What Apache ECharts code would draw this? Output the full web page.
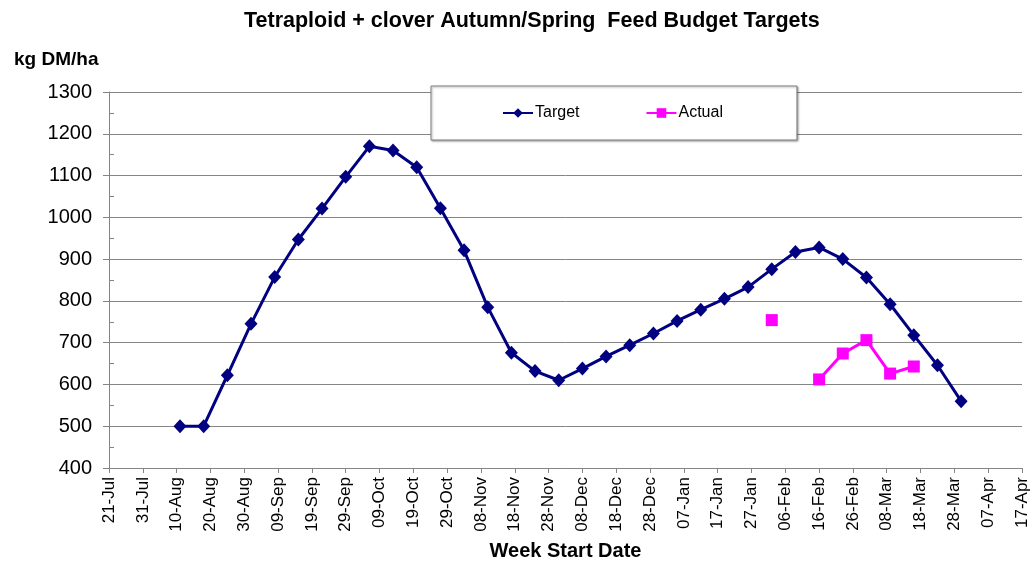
<!DOCTYPE html>
<html>
<head>
<meta charset="utf-8">
<script src="https://cdn.jsdelivr.net/npm/echarts@6/dist/echarts.min.js"></script>
<style>
  html, body { margin: 0; padding: 0; background: #fff; }
  #chart { width: 1034px; height: 568px; }
</style>
</head>
<body>
<div id="chart"></div>
<script>
// week start dates (season 2008/09)
const weekStart = [
  '2008-08-11', '2008-08-18', '2008-08-25', '2008-09-01', '2008-09-08', '2008-09-15',
  '2008-09-22', '2008-09-29', '2008-10-06', '2008-10-13', '2008-10-20', '2008-10-27',
  '2008-11-03', '2008-11-10', '2008-11-17', '2008-11-24', '2008-12-01', '2008-12-08',
  '2008-12-15', '2008-12-22', '2008-12-29', '2009-01-05', '2009-01-12', '2009-01-19',
  '2009-01-26', '2009-02-02', '2009-02-09', '2009-02-16', '2009-02-23', '2009-03-02',
  '2009-03-09', '2009-03-16', '2009-03-23', '2009-03-30'
];
const targetValues = [
  500, 500, 622, 745, 857, 947, 1021, 1097, 1170, 1160, 1120, 1022,
  921, 785, 676, 632, 610, 638, 667, 694, 722, 752, 779, 805,
  833, 876, 917, 928, 900, 856, 792, 718, 646, 560
];
const actualDates = ['2009-02-02', '2009-02-09', '2009-02-16', '2009-02-23', '2009-03-02', '2009-03-09', '2009-03-16'];
const actualValues = [754, null, 612, 674, 706, 626, 643];

// x axis runs 21-Jul .. 17-Apr, a tick every 10 days
const axisStart = '2008-07-21';
const axisDays = 270;
const months = ['Jan', 'Feb', 'Mar', 'Apr', 'May', 'Jun', 'Jul', 'Aug', 'Sep', 'Oct', 'Nov', 'Dec'];

const DAY = 86400000;
const t0 = Date.parse(axisStart + 'T00:00:00Z');
const dayOf = s => Math.round((Date.parse(s + 'T00:00:00Z') - t0) / DAY);
const fmtDay = d => {
  const dt = new Date(t0 + d * DAY);
  const dd = String(dt.getUTCDate()).padStart(2, '0');
  return dd + '-' + months[dt.getUTCMonth()];
};

const targetData = weekStart.map((s, i) => [dayOf(s), targetValues[i]]);
const actualData = actualDates.map((s, i) => [dayOf(s), actualValues[i] == null ? '-' : actualValues[i]]);

const font = '"Liberation Sans", Arial, sans-serif';
const gridGray = '#858585';

const chart = echarts.init(document.getElementById('chart'), null, { renderer: 'canvas' });

const option = {
  backgroundColor: '#fff',
  animation: false,
  textStyle: { fontFamily: font, color: '#000' },
  title: [{
    text: 'Tetraploid + clover Autumn/Spring  Feed Budget Targets',
    left: 239,
    top: 5,
    textStyle: { fontFamily: font, fontSize: 21.5, fontWeight: 'bold', color: '#000' }
  }, {
    text: 'kg DM/ha',
    left: 9,
    top: 45,
    textStyle: { fontFamily: font, fontSize: 19, fontWeight: 'bold', color: '#000' }
  }],
  legend: {
    left: 431,
    top: 86,
    padding: [19, 74, 19, 71],
    itemGap: 66,
    itemWidth: 30,
    itemHeight: 12,
    backgroundColor: '#fff',
    borderColor: '#808080',
    borderWidth: 1,
    borderRadius: 0,
    shadowColor: 'rgba(0,0,0,0.35)',
    shadowBlur: 2,
    shadowOffsetX: 1,
    shadowOffsetY: 1,
    textStyle: { fontFamily: font, fontSize: 16, color: '#000', padding: [0, 0, 0, -3] },
    data: ['Target', 'Actual']
  },
  grid: {
    left: 109,
    right: 12,
    top: 92,
    bottom: 100,
    containLabel: false
  },
  xAxis: {
    type: 'value',
    min: 0,
    max: axisDays,
    interval: 10,
    name: 'Week Start Date',
    nameLocation: 'middle',
    nameGap: 73,
    nameTextStyle: { fontFamily: font, fontSize: 20, fontWeight: 'bold', color: '#000' },
    axisLine: { lineStyle: { color: gridGray, width: 1 } },
    axisTick: { show: true, length: 5, lineStyle: { color: gridGray } },
    splitLine: { show: false },
    axisLabel: {
      rotate: 90,
      margin: 9,
      fontSize: 17,
      color: '#000',
      fontFamily: font,
      formatter: v => fmtDay(v)
    }
  },
  yAxis: [{
    type: 'value',
    min: 400,
    max: 1300,
    interval: 100,
    axisLine: { show: true, lineStyle: { color: gridGray, width: 1 } },
    axisTick: { show: true, length: 6, lineStyle: { color: gridGray } },
    splitLine: { show: true, lineStyle: { color: gridGray, width: 1 } },
    axisLabel: { margin: 17, fontSize: 20, color: '#000', fontFamily: font, formatter: v => String(v) }
  }, {
    // minor ticks on the inside of the value axis
    type: 'value',
    position: 'left',
    offset: 0,
    min: 400,
    max: 1300,
    interval: 50,
    axisLine: { show: false },
    axisTick: { show: true, inside: true, length: 5, lineStyle: { color: gridGray } },
    splitLine: { show: false },
    axisLabel: { show: false }
  }],
  series: [{
    name: 'Target',
    type: 'line',
    data: targetData,
    symbol: 'diamond',
    symbolSize: [13, 14],
    itemStyle: { color: '#000080' },
    lineStyle: { color: '#000080', width: 3 },
    z: 3
  }, {
    name: 'Actual',
    type: 'line',
    data: actualData,
    connectNulls: false,
    symbol: 'rect',
    symbolSize: 12,
    itemStyle: { color: '#ff00ff' },
    lineStyle: { color: '#ff00ff', width: 3 },
    z: 4
  }]
};

chart.setOption(option);
</script>
</body>
</html>
